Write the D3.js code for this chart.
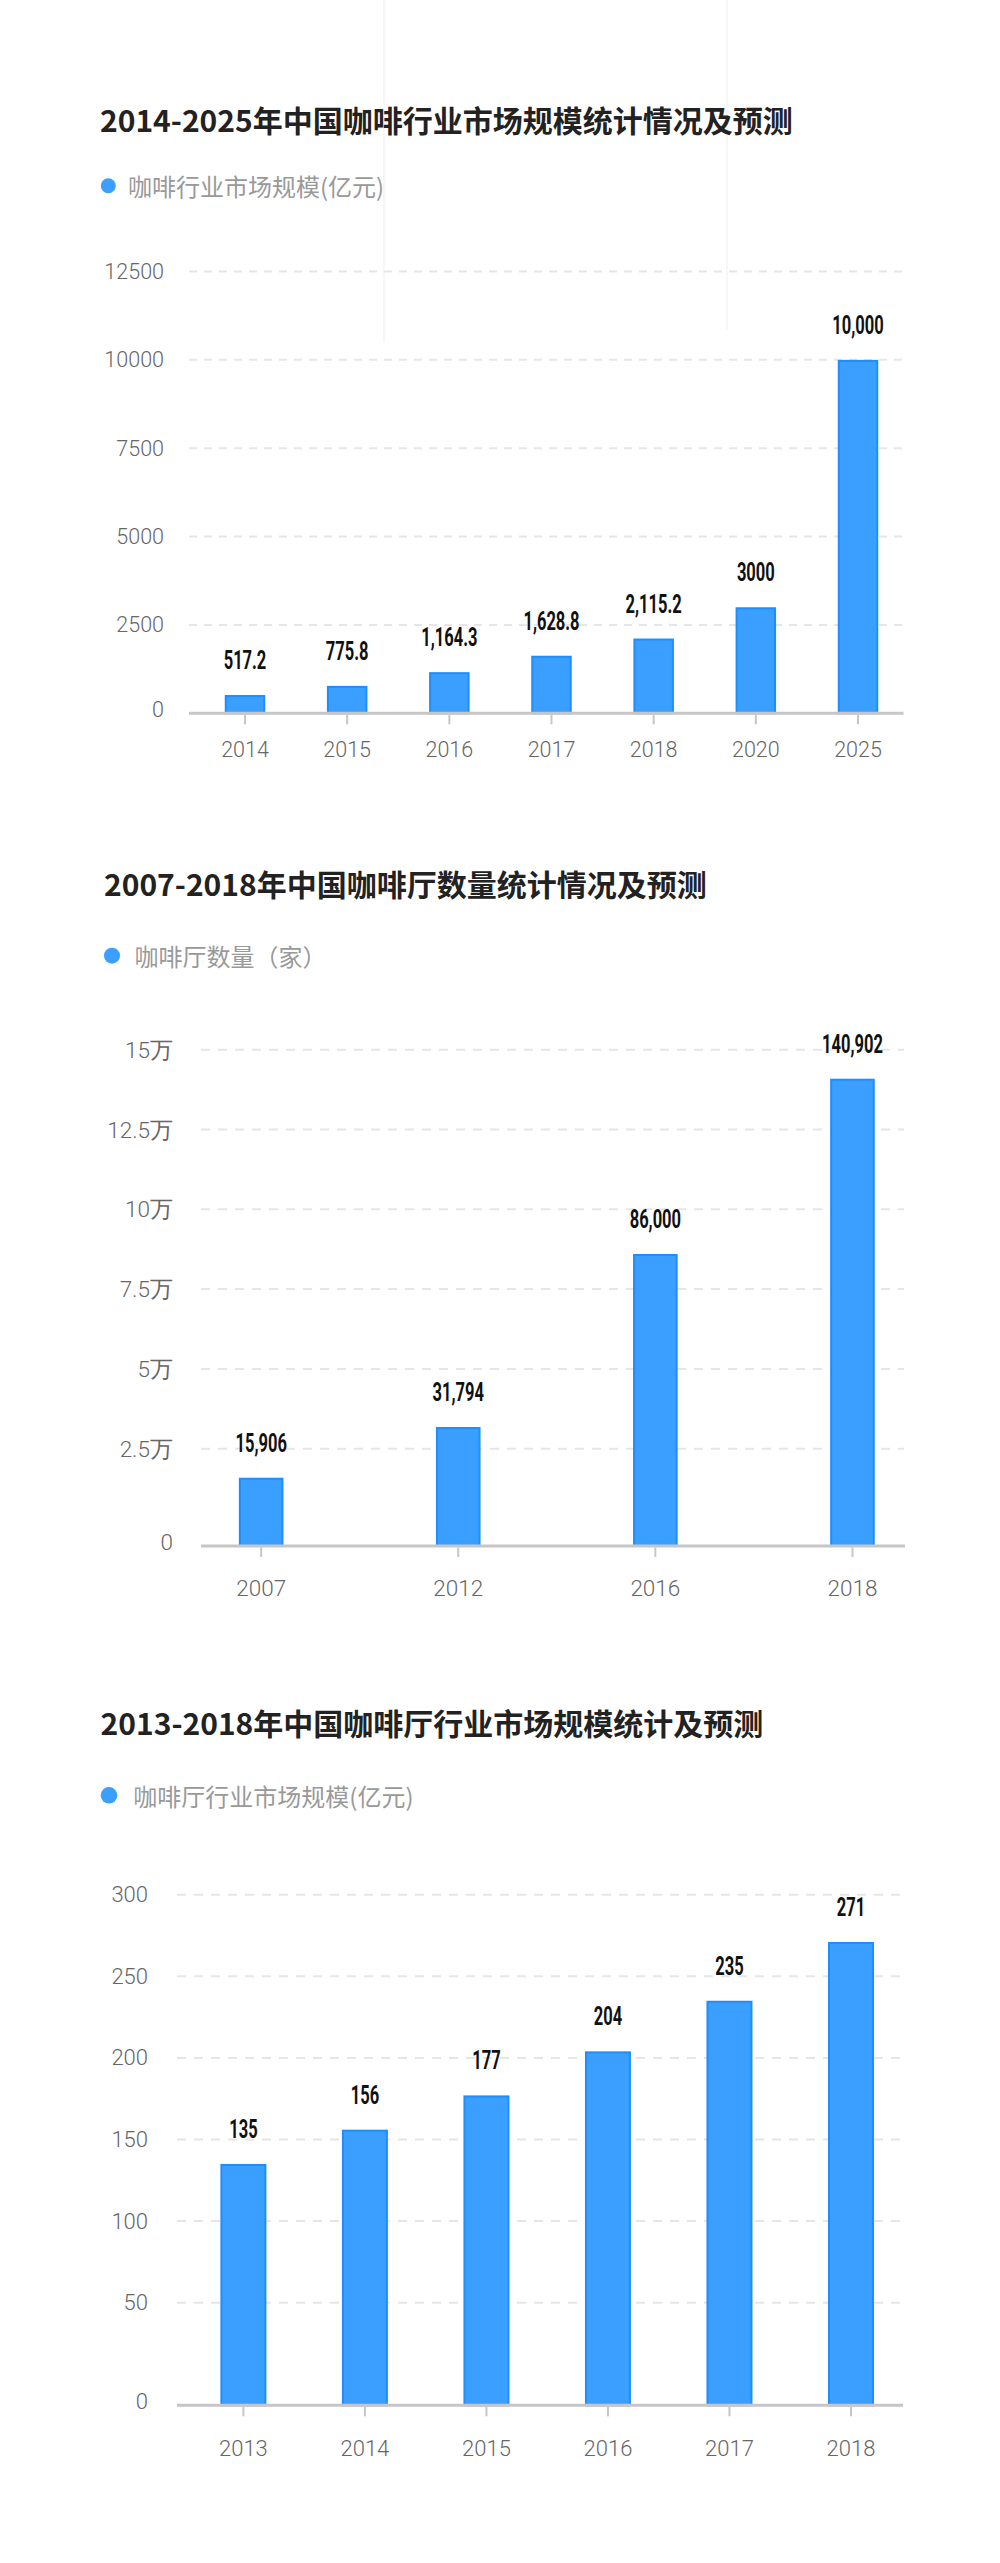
<!DOCTYPE html>
<html><head><meta charset="utf-8">
<script src="https://cdn.jsdelivr.net/npm/d3@7"></script>
<style>body{margin:0;background:#fff}svg{display:block}</style>
</head><body><svg id="c" width="1000" height="2563"></svg>
<script>
// ---------- DATA ----------
const title1 = "2014-2025年中国咖啡行业市场规模统计情况及预测";
const legend1 = "咖啡行业市场规模(亿元)";
const cats1 = ["2014","2015","2016","2017","2018","2020","2025"];
const vals1 = [517.2, 775.8, 1164.3, 1628.8, 2115.2, 3000, 10000];
const valLabels1 = ["517.2","775.8","1,164.3","1,628.8","2,115.2","3000","10,000"];
const yTicks1 = [0, 2500, 5000, 7500, 10000, 12500];
const yTickLabels1 = ["0","2500","5000","7500","10000","12500"];

const title2 = "2007-2018年中国咖啡厅数量统计情况及预测";
const legend2 = "咖啡厅数量（家）";
const cats2 = ["2007","2012","2016","2018"];
const vals2 = [15906, 31794, 86000, 140902];
const valLabels2 = ["15,906","31,794","86,000","140,902"];
const yTicks2 = [0, 25000, 50000, 75000, 100000, 125000, 150000];
const yTickLabels2 = ["0","2.5万","5万","7.5万","10万","12.5万","15万"];

const title3 = "2013-2018年中国咖啡厅行业市场规模统计及预测";
const legend3 = "咖啡厅行业市场规模(亿元)";
const cats3 = ["2013","2014","2015","2016","2017","2018"];
const vals3 = [135, 156, 177, 204, 235, 271];
const valLabels3 = ["135","156","177","204","235","271"];
const yTicks3 = [0, 50, 100, 150, 200, 250, 300];
const yTickLabels3 = ["0","50","100","150","200","250","300"];

// ---------- LAYOUT ----------
const BAR_FILL = "#3a9fff", BAR_STROKE = "#1e8eff";
const charts = [
  {title: title1, legend: legend1, cats: cats1, vals: vals1, labels: valLabels1, ticks: yTicks1, tickLabels: yTickLabels1,
   titleX: 100, titleY: 132, dotX: 108.3, dotY: 185.7, dotR: 7.5, legX: 128,
   xRange: [245, 858], barW: 40.5, yDomain: [0, 12500], yRange: [713.3, 271.5],
   gridX: [189, 902.5], yLabelX: 164, xLabelDy: 44, tickFont: 21.5, dash: "8,7"},
  {title: title2, legend: legend2, cats: cats2, vals: vals2, labels: valLabels2, ticks: yTicks2, tickLabels: yTickLabels2,
   titleX: 104, titleY: 896, dotX: 112, dotY: 955.7, dotR: 8, legX: 134.6,
   xRange: [261.15, 852.45], barW: 44.6, yDomain: [-5480, 150000], yRange: [1546, 1049.7],
   gridX: [201, 904], yLabelX: 173, xLabelDy: 50, tickFont: 22.5, dash: "9,8"},
  {title: title3, legend: legend3, cats: cats3, vals: vals3, labels: valLabels3, ticks: yTicks3, tickLabels: yTickLabels3,
   titleX: 100.6, titleY: 1735, dotX: 109, dotY: 1795.3, dotR: 8.3, legX: 133.3,
   xRange: [243.4, 851], barW: 46, yDomain: [-12.9, 300], yRange: [2405.3, 1894.7],
   gridX: [177, 902], yLabelX: 148, xLabelDy: 50.7, tickFont: 22, dash: "9,8"}
];

const svg = d3.select("#c");
svg.append("rect").attr("width", 1000).attr("height", 2563).attr("fill", "#fff");

// faint background artefact lines at the top
[[384, 342], [727, 330]].forEach(([x, h]) => {
  svg.append("line").attr("x1", x).attr("x2", x).attr("y1", 0).attr("y2", h)
    .attr("stroke", "#f1f1f1").attr("stroke-width", 1.2);
});

const NUM_FONT = "Roboto, 'Noto Sans', 'DejaVu Sans', sans-serif";
const CJK_FONT = "'Noto Sans CJK SC', 'Noto Sans', sans-serif";

charts.forEach(c => {
  const g = svg.append("g");
  const x = d3.scalePoint().domain(c.cats).range(c.xRange);
  const y = d3.scaleLinear().domain(c.yDomain).range(c.yRange);
  const axisY = y(c.yDomain[0]);

  // title
  g.append("text").attr("x", c.titleX).attr("y", c.titleY)
    .attr("font-family", CJK_FONT).attr("font-weight", 700).attr("font-size", 30)
    .attr("fill", "#222").text(c.title);

  // legend
  g.append("circle").attr("cx", c.dotX).attr("cy", c.dotY).attr("r", c.dotR).attr("fill", BAR_FILL);
  g.append("text").attr("x", c.legX).attr("y", c.dotY).attr("dominant-baseline", "central")
    .attr("font-family", CJK_FONT).attr("font-size", 24).attr("fill", "#999").text(c.legend);

  // gridlines
  g.selectAll(".grid").data(c.ticks.filter(t => t !== 0)).enter().append("line")
    .attr("x1", c.gridX[0]).attr("x2", c.gridX[1])
    .attr("y1", d => y(d)).attr("y2", d => y(d))
    .attr("stroke", "#e6e6e6").attr("stroke-width", 2).attr("stroke-dasharray", c.dash);

  // y tick labels
  g.selectAll(".ylab").data(c.ticks).enter().append("text")
    .attr("x", c.yLabelX)
    .attr("y", d => d === 0 ? axisY - 4 : y(d))
    .attr("dominant-baseline", "central").attr("text-anchor", "end")
    .attr("font-family", NUM_FONT).attr("font-weight", 300).attr("font-size", c.tickFont)
    .attr("fill", "#666").text((d, i) => c.tickLabels[i]);

  // bars
  g.selectAll(".bar").data(c.vals).enter().append("rect")
    .attr("x", (d, i) => x(c.cats[i]) - c.barW / 2 + 1)
    .attr("width", c.barW - 2)
    .attr("y", d => y(d) + 1)
    .attr("height", d => axisY - y(d) - 1)
    .attr("fill", BAR_FILL).attr("stroke", BAR_STROKE).attr("stroke-width", 2);

  // axis line and ticks
  g.append("line").attr("x1", c.gridX[0]).attr("x2", c.gridX[1] + 1)
    .attr("y1", axisY).attr("y2", axisY).attr("stroke", "#c6c6c6").attr("stroke-width", 3);
  g.selectAll(".tick").data(c.cats).enter().append("line")
    .attr("x1", d => x(d)).attr("x2", d => x(d))
    .attr("y1", axisY + 1.5).attr("y2", axisY + 11)
    .attr("stroke", "#c6c6c6").attr("stroke-width", 2);

  // x labels
  g.selectAll(".xlab").data(c.cats).enter().append("text")
    .attr("x", d => x(d)).attr("y", axisY + c.xLabelDy)
    .attr("text-anchor", "middle")
    .attr("font-family", NUM_FONT).attr("font-weight", 300).attr("font-size", c.tickFont)
    .attr("fill", "#666").text(d => d);

  // value labels (condensed bold)
  g.selectAll(".vlab").data(c.vals).enter().append("text")
    .attr("transform", (d, i) => `translate(${x(c.cats[i])},${y(d) - 26}) scale(0.66,1)`)
    .attr("text-anchor", "middle")
    .attr("font-family", NUM_FONT).attr("font-weight", 700).attr("font-size", 25)
    .attr("fill", "#111").text((d, i) => c.labels[i]);
});
</script>
</body></html>
